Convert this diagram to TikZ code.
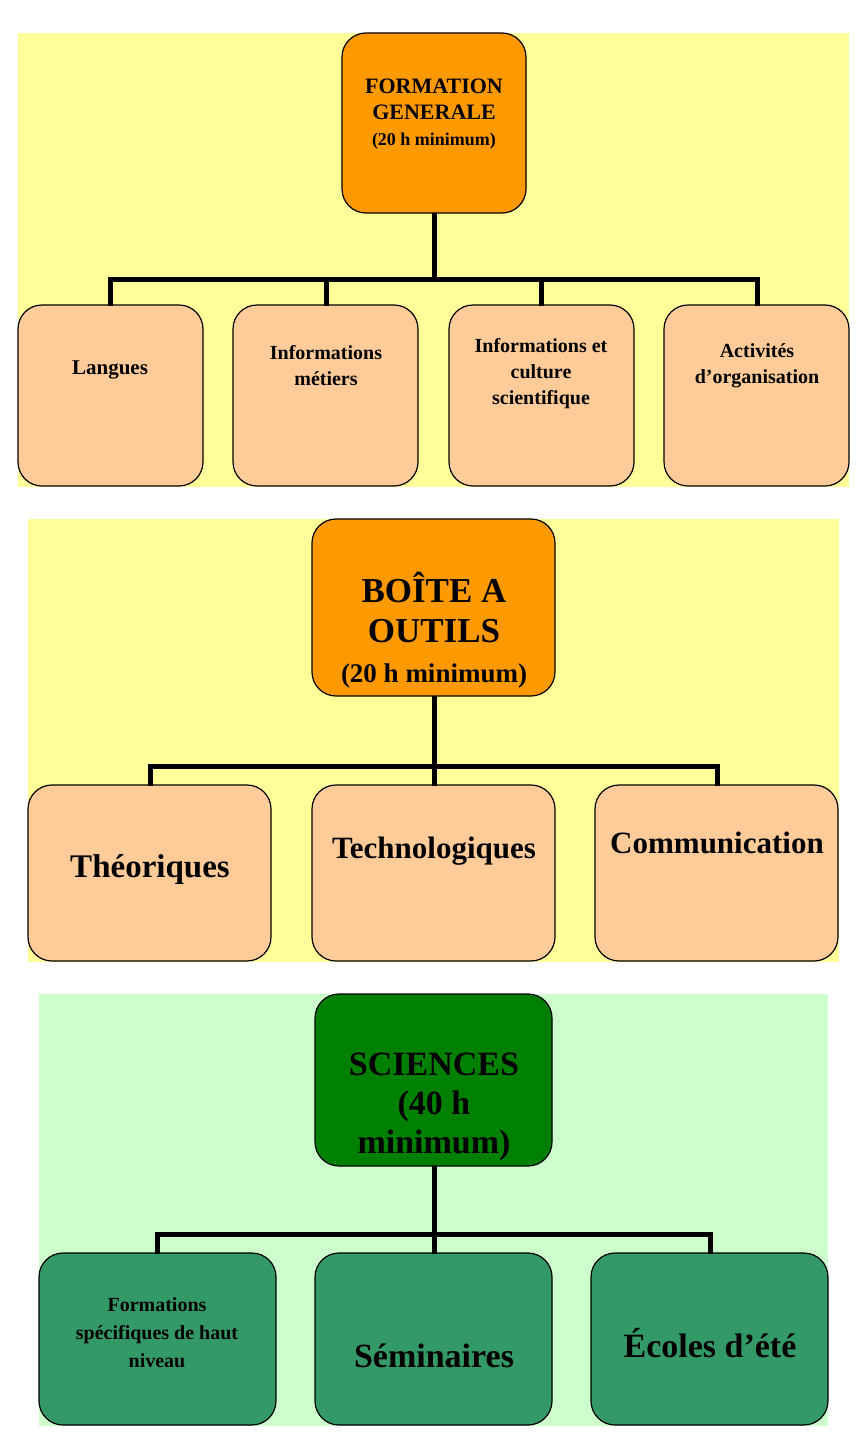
\documentclass[tikz,border=0pt]{standalone}
\usepackage{fontspec}
\setmainfont{Liberation Serif}
\definecolor{paleyellow}{HTML}{FFFF99}
\definecolor{palegreen}{HTML}{CCFFCC}
\definecolor{headorange}{HTML}{FF9900}
\definecolor{peach}{HTML}{FFCC99}
\definecolor{headgreen}{HTML}{008000}
\definecolor{midgreen}{HTML}{339966}
\tikzset{
  box/.style={draw=black, line width=1.2pt, rounded corners=24pt},
  lbl/.style={align=center},
  bus/.style={line width=5pt}
}
\newcommand{\fs}[2]{\fontsize{#1}{#2}\selectfont\bfseries}
\begin{document}
\begin{tikzpicture}[x=1pt,y=-1pt]
	\useasboundingbox (0,0) rectangle (861,1437);
	%%%% Formation generale
	\fill [paleyellow] (18,33) rectangle (849,487);
	\draw [box,fill=headorange] (342,33) rectangle (526,213);
	\node [lbl,font=\fs{22}{26}] (t1) at (434,114) {FORMATION\\GENERALE\\{\fs{18}{26}(20 h minimum)}};
	\coordinate (bus1) at (434,279);
	\draw [box,fill=peach] (18,305) rectangle (203,486);
	\draw [box,fill=peach] (233,305) rectangle (418,486);
	\draw [box,fill=peach] (449,305) rectangle (634,486);
	\draw [box,fill=peach] (664,305) rectangle (849,486);
	\node [lbl,font=\fs{21}{26}] (a1) at (110,370) {Langues};
	\node [lbl,font=\fs{20}{26}] (a2) at (326,366) {Informations\\métiers};
	\node [lbl,font=\fs{20}{26}] (a3) at (541,374) {Informations et\\culture\\scientifique};
	\node [lbl,font=\fs{20}{26}] (a4) at (757,366) {Activités\\d’organisation};
	\draw [bus] (434,213) -- (bus1);
	\draw [bus] (110,306) |- (bus1) -| (757,306);
	\draw [bus] (326,306) -- (326,279);
	\draw [bus] (541,306) -- (541,279);
	%%%% Boite a outils
	\fill [paleyellow] (28,519) rectangle (839,962);
	\draw [box,fill=headorange] (312,519) rectangle (555,696);
	\node [lbl,font=\fs{35}{40}] (t2) at (434,630) {BOÎTE A\\OUTILS\\{\fs{27}{36}(20 h minimum)}};
	\coordinate (bus2) at (434,766);
	\draw [box,fill=peach] (28,785) rectangle (271,961);
	\draw [box,fill=peach] (312,785) rectangle (555,961);
	\draw [box,fill=peach] (595,785) rectangle (838,961);
	\node [lbl,font=\fs{33}{38}] (b1) at (150,870) {Théoriques};
	\node [lbl,font=\fs{31}{36}] (b2) at (434,851) {Technologiques};
	\node [lbl,font=\fs{31}{36}] (b3) at (717,843) {Communication};
	\draw [bus] (434,696) -- (bus2);
	\draw [bus] (150,786) |- (bus2) -| (717,786);
	\draw [bus] (434,786) -- (bus2);
	%%%% Sciences
	\fill [palegreen] (39,994) rectangle (828,1426);
	\draw [box,fill=headgreen] (315,994) rectangle (552,1166);
	\node [lbl,font=\fs{34}{39}] (t3) at (434,1107) {SCIENCES\\(40 h\\minimum)};
	\coordinate (bus3) at (434,1234);
	\draw [box,fill=midgreen] (39,1253) rectangle (276,1425);
	\draw [box,fill=midgreen] (315,1253) rectangle (552,1425);
	\draw [box,fill=midgreen] (591,1253) rectangle (828,1425);
	\node [lbl,font=\fs{20}{28}] (c1) at (157,1333) {Formations\\spécifiques de haut\\niveau};
	\node [lbl,font=\fs{34}{40}] (c2) at (434,1356) {Séminaires};
	\node [lbl,font=\fs{34}{40}] (c3) at (710,1343) {Écoles d’été};
	\draw [bus] (434,1166) -- (bus3);
	\draw [bus] (157,1254) |- (bus3) -| (710,1254);
	\draw [bus] (434,1254) -- (bus3);
\end{tikzpicture}
\end{document}
